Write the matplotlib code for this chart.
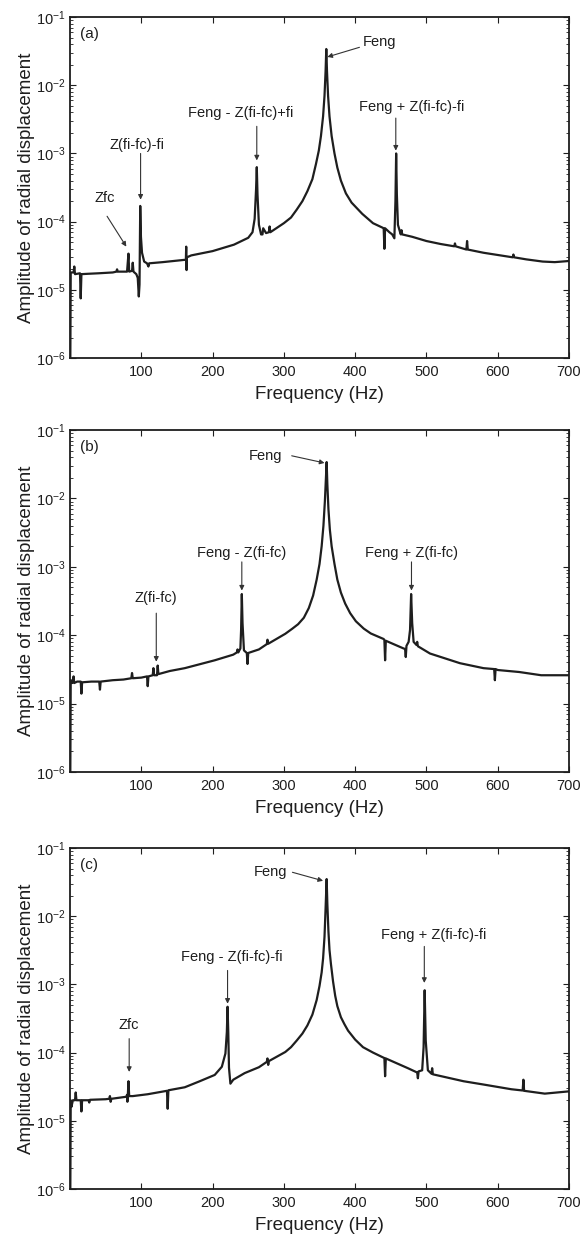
import matplotlib
matplotlib.use("Agg")
import matplotlib.pyplot as plt
from matplotlib.ticker import LogLocator, NullFormatter, FixedLocator

plt.rcParams['font.family'] = ['Liberation Sans', 'DejaVu Sans']
plt.rcParams['mathtext.fontset'] = 'custom'
plt.rcParams['mathtext.rm'] = 'Liberation Sans'
plt.rcParams['mathtext.it'] = 'Liberation Sans'

# spectrum (a): frequency in Hz, amplitude
freq_a = [0, 1, 5, 6, 7, 14, 15, 16, 25, 40, 60, 65, 66, 67, 80, 82, 83, 87, 88, 89,
          93, 95, 96.5, 97.5, 98.5, 99.5, 101, 104, 108, 110, 111, 130, 160, 162.5,
          163, 163.5, 164, 170, 200, 230, 250, 256, 259, 261, 262, 263, 265, 268, 270,
          271, 275, 279, 280, 281, 300, 310, 318, 326, 333, 340, 345, 349, 352, 355,
          357, 358.5, 359.5, 360.5, 362, 364, 367, 371, 375, 380, 387, 395, 410, 425,
          438, 440, 441, 442, 448, 452, 455, 456.5, 457.5, 458.5, 460, 463, 464, 465,
          466, 480, 500, 520, 539, 540, 541, 556, 557, 558, 580, 621, 622, 623, 640,
          663, 680, 700]
amp_a = [1e-7, 1.8e-5, 1.8e-5, 2.2e-5, 1.7e-5, 1.75e-5, 7.5e-6, 1.7e-5, 1.72e-5, 1.75e-5,
         1.8e-5, 1.85e-5, 2e-5, 1.85e-5, 1.85e-5, 3.4e-5, 1.85e-5, 1.9e-5, 2.5e-5, 1.85e-5,
         1.7e-5, 1.5e-5, 8e-6, 1.2e-5, 1.7e-4, 6e-5, 3.5e-5, 2.6e-5, 2.45e-5, 2.2e-5,
         2.45e-5, 2.55e-5, 2.75e-5, 2.75e-5, 4.3e-5, 1.95e-5, 3e-5, 3.2e-5, 3.7e-5, 4.6e-5,
         5.8e-5, 7e-5, 1.1e-4, 3e-4, 6.3e-4, 2.5e-4, 9e-5, 6.5e-5, 6.5e-5, 8e-5, 6.8e-5,
         7e-5, 8.5e-5, 7e-5, 9.5e-5, 1.15e-4, 1.5e-4, 2e-4, 2.8e-4, 4.2e-4, 7e-4, 1.1e-3,
         1.8e-3, 3.5e-3, 7e-3, 1.6e-2, 3.4e-2, 1.6e-2, 7e-3, 3.5e-3, 1.8e-3, 1e-3, 6.2e-4,
         4e-4, 2.6e-4, 1.9e-4, 1.3e-4, 9.5e-5, 8.2e-5, 8e-5, 4e-5, 8e-5, 7e-5, 6.5e-5,
         5.7e-5, 2e-4, 1e-3, 2.5e-4, 9e-5, 7e-5, 6.5e-5, 7.5e-5, 6.5e-5, 6e-5, 5.2e-5,
         4.7e-5, 4.35e-5, 4.8e-5, 4.35e-5, 3.9e-5, 5.2e-5, 3.9e-5, 3.5e-5, 3e-5, 3.3e-5,
         3e-5, 2.8e-5, 2.6e-5, 2.55e-5, 2.65e-5]

# spectrum (b)
freq_b = [0, 1, 3, 5, 6, 10, 15, 16, 17, 30, 41, 42, 43, 60, 75, 86, 87, 88, 100, 108,
          109, 110, 116, 117, 118, 122, 123, 124, 140, 161, 203, 229, 234, 235, 236, 239,
          240, 241, 242, 244, 248, 249, 250, 265, 276, 277, 278, 302, 312, 320, 328, 335,
          341, 346, 350, 353, 355.5, 357.5, 359, 360, 361, 362.5, 364.5, 367, 371, 375,
          380, 386, 393, 401, 412, 422, 440, 441, 442, 443, 458, 468, 470, 471, 472, 475,
          477, 478.5, 480, 482, 486, 487, 488, 505, 547, 580, 595, 596, 597, 600, 630,
          661, 700]
amp_b = [1e-7, 2.2e-5, 2e-5, 2.5e-5, 2e-5, 2.1e-5, 2.1e-5, 1.4e-5, 2.05e-5, 2.1e-5,
         2.1e-5, 1.6e-5, 2.1e-5, 2.2e-5, 2.25e-5, 2.35e-5, 2.8e-5, 2.35e-5, 2.4e-5, 2.5e-5,
         1.8e-5, 2.5e-5, 2.6e-5, 3.3e-5, 2.6e-5, 2.6e-5, 3.6e-5, 2.7e-5, 3e-5, 3.3e-5,
         4.3e-5, 5.2e-5, 5.6e-5, 6.2e-5, 5.6e-5, 6.4e-5, 1.2e-4, 4e-4, 1.5e-4, 6e-5,
         5.5e-5, 3.8e-5, 5.5e-5, 6.2e-5, 7.4e-5, 8.6e-5, 7.5e-5, 1.05e-4, 1.25e-4, 1.45e-4,
         1.8e-4, 2.5e-4, 3.8e-4, 6.5e-4, 1.1e-3, 2e-3, 4e-3, 9e-3, 2e-2, 3.4e-2, 1.6e-2,
         7e-3, 3.5e-3, 2e-3, 1.1e-3, 6.5e-4, 4.2e-4, 2.9e-4, 2.1e-4, 1.6e-4, 1.25e-4,
         1.06e-4, 8.8e-5, 8.5e-5, 4.3e-5, 8.3e-5, 7.1e-5, 6.4e-5, 6.3e-5, 4.8e-5, 7e-5,
         8e-5, 1.2e-4, 4e-4, 1.5e-4, 8e-5, 7.2e-5, 8e-5, 6.9e-5, 5.4e-5, 3.9e-5, 3.3e-5,
         3.2e-5, 2.2e-5, 3.2e-5, 3.1e-5, 2.9e-5, 2.6e-5, 2.6e-5]

# spectrum (c)
freq_c = [0, 1, 2, 4, 7, 8, 9, 15, 16, 17, 26, 27, 28, 50, 55, 56, 57, 58, 79, 80, 80.5,
          81, 82, 83, 88, 109, 136, 137, 138, 161, 182, 203, 213, 218, 220, 221, 222, 223,
          225, 229, 245, 265, 276, 277, 278, 279, 302, 310, 318, 326, 333, 340, 346, 350,
          353, 355, 357, 358.5, 360, 361, 362.5, 364, 366, 369, 372, 375, 380, 385, 390,
          400, 411, 425, 441, 442, 443, 474, 487, 488, 489, 494, 496, 497.5, 499, 502,
          507, 508, 509, 552, 580, 619, 635, 636, 637, 666, 700]
amp_c = [1e-7, 2e-5, 1.6e-5, 2e-5, 2e-5, 2.6e-5, 2e-5, 2e-5, 1.37e-5, 2e-5, 2e-5, 1.85e-5,
         2.03e-5, 2.07e-5, 2.1e-5, 2.3e-5, 1.9e-5, 2.1e-5, 2.25e-5, 2.4e-5, 1.9e-5, 2.25e-5,
         3.8e-5, 2.3e-5, 2.3e-5, 2.45e-5, 2.75e-5, 1.5e-5, 2.8e-5, 3.1e-5, 3.8e-5, 4.7e-5,
         6.2e-5, 9.7e-5, 2e-4, 4.7e-4, 2e-4, 6e-5, 3.5e-5, 4e-5, 5e-5, 6.1e-5, 7.3e-5,
         8.2e-5, 6.6e-5, 7.5e-5, 1.02e-4, 1.2e-4, 1.5e-4, 1.9e-4, 2.5e-4, 3.6e-4, 5.9e-4,
         9.5e-4, 1.5e-3, 2.4e-3, 5e-3, 1.3e-2, 3.5e-2, 1.5e-2, 6e-3, 3.2e-3, 2e-3, 1.1e-3,
         6.8e-4, 4.8e-4, 3.3e-4, 2.6e-4, 2.1e-4, 1.55e-4, 1.2e-4, 1e-4, 8.3e-5, 4.5e-5,
         8.2e-5, 5.9e-5, 5.1e-5, 4.2e-5, 5.3e-5, 5.5e-5, 1.2e-4, 8.2e-4, 1.5e-4, 5.5e-5,
         4.9e-5, 5.9e-5, 4.8e-5, 3.8e-5, 3.4e-5, 2.9e-5, 2.78e-5, 4e-5, 2.75e-5, 2.5e-5,
         2.7e-5]

x_ticks = [100, 200, 300, 400, 500, 600, 700]
panel_tags = ['(a)', '(b)', '(c)']

fig = plt.figure(figsize=(5.82, 12.45), dpi=100)
boxes = [[0.1203, 0.7124, 0.8574, 0.2739],
         [0.1203, 0.3799, 0.8574, 0.2747],
         [0.1203, 0.0450, 0.8574, 0.2739]]
ink = '#1e1e1e'
arrow = dict(arrowstyle='-|>', lw=0.8, color='#333333', mutation_scale=7,
             shrinkA=0, shrinkB=0)


def setup(ax, tag):
    ax.set_yscale('log')
    ax.set_xlim(0, 700)
    ax.set_ylim(1e-6, 1e-1)
    ax.xaxis.set_major_locator(FixedLocator(x_ticks))
    ax.yaxis.set_major_locator(LogLocator(base=10, numticks=10))
    ax.yaxis.set_minor_locator(LogLocator(base=10, subs=range(2, 10), numticks=20))
    ax.yaxis.set_minor_formatter(NullFormatter())
    ax.tick_params(which='both', direction='in', top=True, right=True, color=ink)
    ax.tick_params(which='major', length=4, width=0.8, labelsize=10.5, colors=ink)
    ax.tick_params(which='minor', length=2.5, width=0.6)
    ax.tick_params(axis='x', pad=5)
    ax.tick_params(axis='y', pad=3)
    for s in ax.spines.values():
        s.set_linewidth(1.3)
        s.set_color(ink)
    ax.set_xlabel('Frequency (Hz)', fontsize=13.5, color=ink, labelpad=5)
    ax.set_ylabel('Amplitude of radial displacement', fontsize=13.5, color=ink)
    ax.yaxis.set_label_coords(-0.07, 0.5)
    ax.text(0.02, 0.95, tag, transform=ax.transAxes, fontsize=11, color=ink,
            ha='left', va='center')


def note(ax, label, txt, tail, head):
    ax.text(txt[0], txt[1], label, fontsize=10.5, color=ink, ha='center', va='center')
    ax.annotate('', xy=head, xytext=tail, arrowprops=arrow)


# (a)
ax = fig.add_axes(boxes[0])
ax.plot(freq_a, amp_a, color=ink, lw=1.6)
setup(ax, panel_tags[0])
note(ax, 'Zfc', (49, 2.2e-4), (52, 1.2e-4), (79, 4.3e-5))
note(ax, 'Z(fi-fc)-fi', (94, 1.33e-3), (99, 1e-3), (99, 2.1e-4))
note(ax, 'Feng - Z(fi-fc)+fi', (240, 3.9e-3), (262, 2.5e-3), (262, 7.9e-4))
note(ax, 'Feng', (434, 4.3e-2), (406, 3.6e-2), (361, 2.6e-2))
note(ax, 'Feng + Z(fi-fc)-fi', (479, 4.8e-3), (457, 3.3e-3), (457, 1.1e-3))

# (b)
ax = fig.add_axes(boxes[1])
ax.plot(freq_b, amp_b, color=ink, lw=1.6)
setup(ax, panel_tags[1])
note(ax, 'Feng', (274, 4.2e-2), (311, 4.2e-2), (357, 3.3e-2))
note(ax, 'Feng - Z(fi-fc)', (241, 1.6e-3), (241, 1.18e-3), (241, 4.5e-4))
note(ax, 'Feng + Z(fi-fc)', (479, 1.6e-3), (479, 1.18e-3), (479, 4.5e-4))
note(ax, 'Z(fi-fc)', (121, 3.5e-4), (121, 2.1e-4), (121, 4.1e-5))

# (c)
ax = fig.add_axes(boxes[2])
ax.plot(freq_c, amp_c, color=ink, lw=1.6)
setup(ax, panel_tags[2])
note(ax, 'Feng', (281, 4.4e-2), (312, 4.4e-2), (355, 3.3e-2))
note(ax, 'Feng - Z(fi-fc)-fi', (227, 2.5e-3), (221, 1.6e-3), (221, 5.2e-4))
note(ax, 'Feng + Z(fi-fc)-fi', (510, 5.3e-3), (497, 3.6e-3), (497, 1.05e-3))
note(ax, 'Zfc', (83, 2.5e-4), (83, 1.6e-4), (83, 5.2e-5))

fig.savefig('out.png', dpi=100)
